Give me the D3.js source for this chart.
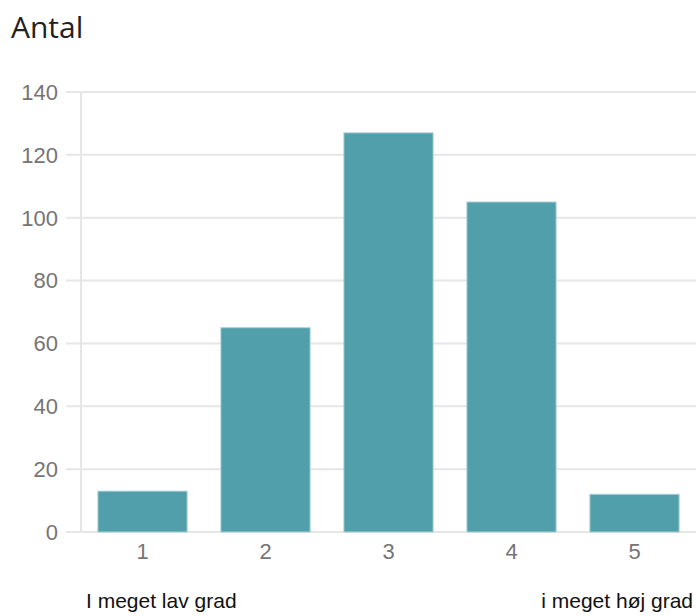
<!DOCTYPE html>
<html><head><meta charset="utf-8">
<script src="https://cdn.jsdelivr.net/npm/d3@7"></script>
<style>body{margin:0;background:#fff}</style>
</head><body>
<svg id="c" width="696" height="616"></svg>
<script>
const categories = ["1","2","3","4","5"];
const values = [13, 65, 127, 105, 12];
const yTicks = [0,20,40,60,80,100,120,140];
const title = "Antal";
const lowLabel = "I meget lav grad";
const highLabel = "i meget høj grad";

(function(){
const svg = d3.select("#c");
const mLeft = 81, mRight = 696, mTop = 92, mBottom = 532;
const x = d3.scaleBand().domain(categories).range([mLeft, mRight]).paddingInner(0.275).paddingOuter(0.1375);
const y = d3.scaleLinear().domain([0,140]).range([mBottom, mTop]);

svg.append("text").attr("x", 11).attr("y", 38).text(title)
  .attr("font-family", "Open Sans").attr("font-size", 30).attr("fill", "#222");

const g = svg.append("g");
g.selectAll("line.grid").data(yTicks).join("line")
  .attr("x1", 66).attr("x2", mRight).attr("y1", d => y(d)).attr("y2", d => y(d))
  .attr("stroke", "#e6e6e6").attr("stroke-width", 2);
g.append("line").attr("x1", mLeft).attr("x2", mLeft).attr("y1", mTop).attr("y2", mBottom)
  .attr("stroke", "#e6e6e6").attr("stroke-width", 2);

g.selectAll("text.yt").data(yTicks).join("text")
  .attr("x", 58).attr("y", d => y(d)).attr("dy", "0.36em").attr("text-anchor", "end")
  .attr("font-family", "Liberation Sans, Arial").attr("font-size", 22).attr("fill", "#757575")
  .text(d => d);

g.selectAll("rect").data(values).join("rect")
  .attr("x", (d,i) => x(categories[i])).attr("width", x.bandwidth())
  .attr("y", d => y(d)).attr("height", d => y(0) - y(d))
  .attr("fill", "#519fab").attr("stroke", "#a9d0d6").attr("stroke-width", 1);

g.selectAll("text.xt").data(categories).join("text")
  .attr("x", d => x(d) + x.bandwidth()/2).attr("y", 551).attr("dy", "0.36em").attr("text-anchor", "middle")
  .attr("font-family", "Liberation Sans, Arial").attr("font-size", 22).attr("fill", "#757575")
  .text(d => d);

svg.append("text").attr("x", 86).attr("y", 608).text(lowLabel)
  .attr("font-family", "Liberation Sans, Arial").attr("font-size", 21).attr("fill", "#111");
svg.append("text").attr("x", 693).attr("y", 608).attr("text-anchor", "end").text(highLabel)
  .attr("font-family", "Liberation Sans, Arial").attr("font-size", 21).attr("fill", "#111");
})();
</script>
</body></html>
